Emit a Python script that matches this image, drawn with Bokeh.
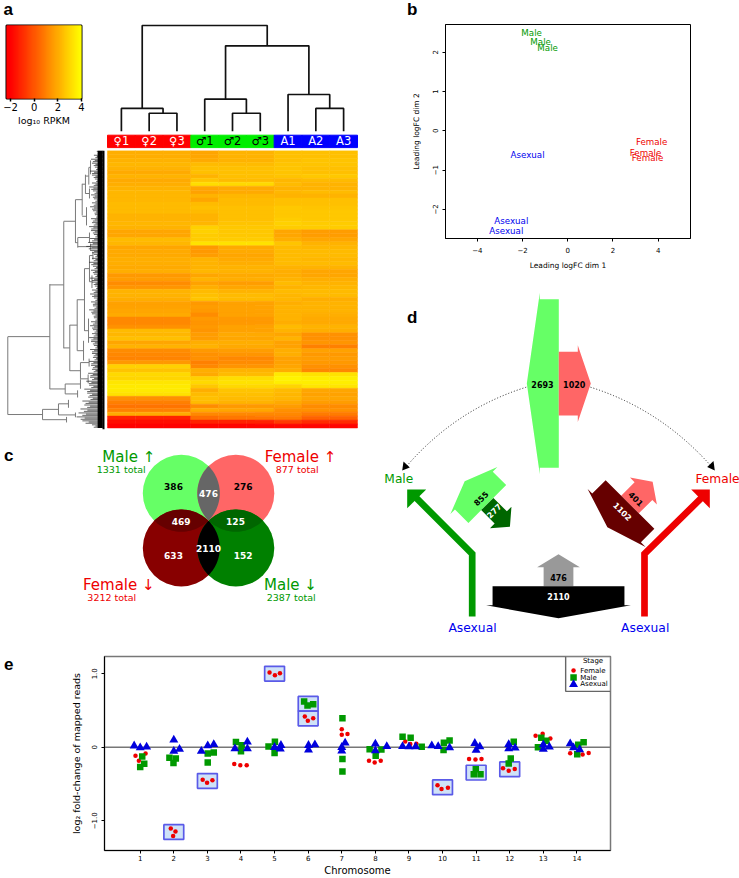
import numpy as np
from bokeh.plotting import figure
from bokeh.layouts import column, row
from bokeh.models import Range1d, Label, FixedTicker, LinearColorMapper
from bokeh.core.properties import value
from bokeh.embed import file_html
from bokeh.resources import INLINE

FONT = "DejaVu Sans"
GREEN, RED, BLUE = "#009900", "#ee0000", "#0000ee"
HEAT = ["#%02x%02x00" % (255, g) for g in range(256)]

# ---- panel a data
sample_labels = ["♀1", "♀2", "♀3", "♂1", "♂2", "♂3", "A1", "A2", "A3"]
sample_fill = ["#ff0000"] * 3 + ["#00ee00"] * 3 + ["#0000ff"] * 3
sample_text = ["white"] * 3 + ["black"] * 3 + ["white"] * 3
# left, right (leaf index or earlier merge as "n<i>"), height
sample_merges = [(1, 2, 0.17), (0, "n0", 0.215), (4, 5, 0.17), (3, "n2", 0.303),
                 (7, 8, 0.215), (6, "n4", 0.347), ("n3", "n5", 0.808), ("n1", "n6", 1.0)]
rpkm_ticks = [-2, 0, 2, 4]
heat_female = [2.1,2.1,2.2,2.3,2.2,2.0,2.2,2.0,2.1,2.2,2.3,2.3,2.3,2.4,2.4,2.4,2.2,2.2,2.3,2.2,1.9,1.9,2.4,2.3,
               1.9,2.0,2.0,2.1,2.1,2.0,2.1,1.6,1.7,1.3,1.5,2.2,2.2,2.1,1.8,1.8,1.9,2.0,1.2,1.2,1.4,2.4,2.3,
               2.5,1.9,2.2,1.3,1.2,1.1,1.6,2.9,2.6,3.1,3.0,3.4,3.5,3.5,3.3,1.4,1.0,0.7,1.0,2.0,-1.2,-1.7,-2.0]
heat_male1 = [1.9,1.9,2.0,2.4,2.5,2.5,2.2,2.6,3.2,1.9,1.8,2.2,1.9,2.4,2.5,2.4,2.2,2.2,2.3,2.9,2.9,2.8,2.8,3.3,
              1.6,1.6,1.7,2.2,2.2,2.2,2.3,1.9,2.2,1.8,2.1,2.4,2.5,2.6,1.6,1.7,1.6,1.3,1.6,1.5,1.6,1.5,1.7,
              1.7,2.1,2.2,1.6,1.4,1.4,1.0,1.2,2.1,2.0,2.9,3.1,2.7,2.1,2.4,2.5,2.4,1.3,2.0,1.2,0.6,-1.2,-1.9]
heat_male23 = [2.2,2.2,2.2,2.4,2.5,2.5,2.5,2.4,3.1,2.0,2.0,2.3,2.4,2.4,2.5,2.5,2.5,2.5,2.6,2.7,2.7,2.7,2.8,3.3,
               2.0,2.0,1.9,2.0,2.1,2.2,2.2,2.0,2.1,1.7,1.9,2.2,2.4,2.4,1.8,1.8,1.8,1.8,1.6,1.6,1.8,1.8,2.0,
               1.9,2.1,2.0,1.7,1.5,1.2,1.3,1.5,2.2,2.4,3.2,3.3,3.1,2.6,2.5,2.4,2.2,1.6,1.9,1.2,0.8,-1.2,-1.9]
heat_asex1 = [2.5,2.5,2.5,2.6,2.6,2.6,2.6,2.3,2.4,2.2,2.3,2.2,2.5,2.5,2.7,2.7,2.7,2.8,2.9,2.8,1.9,1.9,2.1,2.6,
              2.4,2.4,2.4,2.4,2.4,2.2,2.1,2.1,2.2,2.4,2.2,2.4,2.3,2.3,2.1,2.2,2.2,2.2,2.2,2.1,2.4,2.2,1.9,
              2.2,1.8,1.8,2.1,2.1,1.8,1.8,1.9,2.1,3.5,3.7,3.6,3.0,2.4,2.3,2.3,2.0,1.7,1.4,1.2,0.9,-0.6,-1.8]
heat_asex23 = [2.5,2.5,2.6,2.6,2.5,2.5,2.7,2.4,2.2,2.2,2.4,2.2,2.5,2.5,2.6,2.7,2.7,2.7,2.8,2.8,1.7,1.7,1.9,2.2,
               2.3,2.4,2.4,2.3,2.4,2.2,1.9,1.9,2.1,2.2,2.3,2.4,2.4,2.1,2.2,2.2,2.2,2.1,2.0,2.0,2.2,2.1,1.4,
               1.4,1.5,1.0,1.8,1.6,1.7,1.6,1.4,1.2,3.3,3.6,3.6,3.4,1.9,1.8,1.9,1.7,1.3,1.4,0.9,0.3,-1.0,-1.9]
# row dendrogram: height, top row, bottom row, parent height
row_nodes = [(.997,47.0,66.6,None),(.559,33.7,60.2,.997),(.635,65.3,67.9,.997),(.414,17.9,49.9,.559),(.399,58.9,61.4,.559),
             (.292,12.4,23.3,.414),(.351,44.0,55.6,.414),(.274,37.6,50.5,.351),(.198,29.8,45.5,.274),(.222,8.4,16.4,.292),
             (.188,6.1,10.9,.222),(.153,4.3,8.6,.188),(.135,2.5,6.0,.153),(.146,9.6,12.1,.188),(.177,14.3,18.9,.222),
             (.268,22.0,24.5,.292),(.146,20.7,23.2,.268),(.135,23.5,25.0,.268),(.146,26.5,33.1,.198),(.156,42.4,48.5,.198),
             (.11,25.5,27.5,.146),(.12,31.5,34.7,.146),(.208,48.0,53.0,.274),(.24,53.5,57.6,.351),(.15,52.5,54.5,.24),
             (.16,56.5,58.7,.24),(.24,57.7,60.1,.399),(.27,60.5,62.3,.399),(.469,63.9,66.7,.635),(.385,67.2,68.6,.635),
             (.365,62.9,64.9,.469),(.292,66.1,67.3,.469)]
leaf_depth = [.07,.10,.13,.12,.09,.14,.12,.09,.12,.15,.11,.13,.10,.12,.14,.11,.09,.13,.12,.15,.13,.10,.14,.16,.18,.14,.10,
              .12,.15,.11,.13,.10,.14,.12,.09,.12,.14,.10,.13,.11,.15,.12,.10,.13,.14,.11,.12,.15,.13,.10,.14,.12,.11,.15,
              .13,.12,.16,.14,.18,.15,.20,.17,.16,.22,.20,.24,.26,.28,.22,.12]

# ---- panel b data
mds_labels = ["Male", "Male", "Male", "Female", "Female", "Female", "Asexual", "Asexual", "Asexual"]
mds_dim1 = [-1.6, -1.2, -0.89, 3.71, 3.44, 3.53, -1.78, -2.5, -2.72]
mds_dim2 = [2.48, 2.25, 2.10, -0.29, -0.56, -0.70, -0.62, -2.30, -2.55]
mds_colors = [GREEN] * 3 + [RED] * 3 + [BLUE] * 3

# ---- panel c data
venn_counts = ["386", "276", "476", "469", "125", "633", "2110", "152"]
venn_text = ["black", "black", "white", "white", "white", "white", "white", "white"]

# ---- panel d data
flow_counts = [2693, 1020, 855, 277, 401, 1102, 476, 2110]
flow_colors = ["#66ff66", "#ff6666", "#66ff66", "#006600", "#ff6666", "#660000", "#999999", "#000000"]
flow_text = ["black", "black", "black", "white", "black", "white", "black", "white"]

# ---- panel e data
chromosomes = list(range(1, 15))
female_x = [.86,.96,1.16, 1.91,2.05,1.98, 2.86,2.99,3.15, 3.8,3.98,4.17, 4.85,5.01,5.16, 5.9,5.99,6.15, 7.0,7.17,7.0,
            7.81,7.98,8.16, 8.89,9.04,9.22, 9.85,9.97,10.16, 10.79,10.98,11.16, 11.8,11.97,12.15, 12.77,12.98,13.21, 13.8,14.17,14.35]
female_y = [-.116,-.183,-.085, -1.105,-1.145,-1.208, -.443,-.483,-.447, -.228,-.246,-.246, 1.016,.98,1.007, .42,.362,.394,
            .246,.18,.17, -.183,-.206,-.183, .08,.045,.049, -.515,-.568,-.55, -.161,-.166,-.161, -.286,-.318,-.295,
            .157,.183,.121, -.08,-.098,-.076]
male_x = [1.06,1.12,1.0, 1.87,2.06,1.99, 3.01,3.19,3.01, 3.85,4.02,4.0, 4.82,5.01,5.0, 5.88,5.98,6.15, 7.02,7.02,7.02,
          7.83,8.18,8.01, 8.81,9.05,9.38, 10.04,10.21,10.03, 10.93,11.13,10.99, 12.12,12.03,11.97, 12.94,13.09,12.84, 14.04,14.2,14.01]
male_y = [-.125,-.224,-.268, -.143,-.152,-.215, -.085,-.072,-.206, .072,.027,-.054, .01,.076,-.076, .622,.568,.586,
          .394,-.16,-.33, -.027,-.031,-.116, .143,.13,.009, .063,.094,-.036, -.367,-.367,-.3, .076,-.152,-.219,
          .13,.09,0.0, .036,.067,-.094]
asexual_x = [.82,1.0,1.19, 2.0,2.0,2.17, 2.82,3.01,3.19, 3.82,4.19,4.19, 5.0,5.17,5.19, 6.01,6.01,6.2, 7.1,7.0,7.0,
             8.0,8.0,8.34, 8.81,9.0,9.2, 9.68,9.87,10.21, 10.96,11.11,11.0, 11.97,11.97,12.16, 13.0,13.0,13.18, 13.8,13.9,14.08]
asexual_y = [.02,-.005,.005, .10,-.054,-.027, -.054,.022,.04, -.018,.072,-.018, 0.0,-.022,.027, .027,-.036,.036,
             .06,0.0,-.05, .045,-.045,.013, .013,.009,.009, .022,.013,-.004, .054,.009,-.04, .04,-.018,-.009,
             .036,-.027,.004, .049,-.004,-.031]
highlight_chrom = [2, 3, 5, 6, 6, 10, 11, 12]
highlight_stage = ["f", "f", "f", "m", "f", "f", "m", "f"]
legend_labels = ["Female", "Male", "Asexual"]


def blank(p):
    p.axis.visible = False
    p.grid.visible = False
    p.outline_line_color = None
    p.background_fill_color = None
    p.border_fill_color = None
    return p


def fig(w, h, xr, yr, **kw):
    opts = dict(min_border=0, min_border_left=0, min_border_right=0, min_border_top=0, min_border_bottom=0)
    opts.update(kw)
    return figure(width=w, height=h, x_range=xr, y_range=yr, output_backend="svg",
                  toolbar_location=None, frame_align=False, **opts)


def txt(p, x, y, s, size, color="black", style="normal", angle=0, align="center", baseline="middle", font=FONT):
    p.text(x=x, y=y, text=s, text_font=value(font), text_font_size=size, text_color=color,
           text_font_style=style, angle=angle, text_align=align, text_baseline=baseline)


def letter(p, s, x, y):
    p.add_layout(Label(x=x, y=y, x_units="screen", y_units="screen", text=s, text_font="Liberation Sans",
                       text_font_size="17px", text_font_style="bold", text_color="black",
                       text_baseline="alphabetic"))


def tag(s, w, h, x, base):
    t = fig(w, h, Range1d(0, w), Range1d(h, 0))
    blank(t)
    txt(t, [x], [base], [s], "17px", style="bold", align="left", baseline="alphabetic", font="Liberation Sans")
    return t


def style_axis(ax, size="7px", label_size="7.5px", standoff=4, label_gap=3):
    ax.major_label_text_font = FONT
    ax.major_label_text_font_size = size
    ax.major_label_text_color = "black"
    ax.axis_label_text_font = FONT
    ax.axis_label_text_font_size = label_size
    ax.axis_label_text_font_style = "normal"
    ax.axis_label_text_color = "black"
    ax.axis_label_standoff = standoff
    ax.minor_tick_line_color = None
    ax.major_tick_in = 0
    ax.major_tick_out = 3
    ax.major_label_standoff = label_gap


# ---------------------------------------------------- panel a
PX_COL = 250 / 9
PX_ROW = 277.5 / 70
heat_x = Range1d(-2 / PX_COL, 263 / PX_COL)

# colour key
PX_UNIT = 71 / 6
tag_a = tag("a", 105, 22, 3, 8.5)
cb = fig(105, 128, Range1d(-2 - 4 / PX_UNIT, 4), Range1d(0, 1),
         min_border_left=6, min_border_top=3, min_border_bottom=52, min_border_right=24)
cb.grid.visible = False
cb.yaxis.visible = False
edges = np.linspace(-2.34, 4, 76)
key_mapper = LinearColorMapper(palette=HEAT, low=-2, high=4)
cb_src = dict(v=list((edges[:-1] + edges[1:]) / 2), l=list(edges[:-1]), r=list(edges[1:]))
cb.quad(left="l", right="r", bottom=0, top=1, source=cb_src,
        fill_color={"field": "v", "transform": key_mapper}, line_color={"field": "v", "transform": key_mapper})
cb.outline_line_color = "black"
cb.outline_line_width = 2
ax = cb.xaxis[0]
style_axis(ax, "10px", "9.5px", 1)
ax.ticker = FixedTicker(ticks=rpkm_ticks)
ax.major_label_overrides = {-2: "−2", 0: "0", 2: "2", 4: "4"}
ax.axis_label = "log₁₀ RPKM"
ax.major_tick_line_width = 1.5
ax.axis_line_color = None
ax.major_label_standoff = 1

# sample dendrogram and strip
PX_H = 105.7
dtop = fig(265, 150, heat_x, Range1d(-19.3 / PX_H, 130.7 / PX_H))
blank(dtop)
pos, hgt, xs, ys = {}, {}, [], []
for i, (ma, mb, h) in enumerate(sample_merges):
    xa = pos[ma] if isinstance(ma, str) else ma + 0.5
    xb = pos[mb] if isinstance(mb, str) else mb + 0.5
    ya = hgt.get(ma, 0.0)
    yb = hgt.get(mb, 0.0)
    xs.append([xa, xa, xb, xb])
    ys.append([ya, h, h, yb])
    pos[f"n{i}"] = (xa + xb) / 2
    hgt[f"n{i}"] = h
dtop.multi_line(xs, ys, line_color="#111111", line_width=1.7)
strip_x = [i + 0.5 for i in range(9)]
dtop.rect(x=strip_x, y=-10.2 / PX_H, width=1.0, height=12.4 / PX_H, fill_color=sample_fill, line_color=sample_fill)
txt(dtop, strip_x, [-10.2 / PX_H] * 9, sample_labels, "11.5px", color=sample_text)

# row dendrogram
dleft = fig(105, 290, Range1d(103 / 96, -2 / 96), Range1d(290 / PX_ROW, 0))
blank(dleft)
nx, ny = [], []
for h, top, bot, par in row_nodes:
    mid = (top + bot) / 2
    nx.append([h, h])
    ny.append([top, bot])
    if par is not None:
        nx.append([par, h])
        ny.append([mid, mid])
dleft.multi_line(nx, ny, line_color="#7a7a7a", line_width=1)
lx0, ly0 = [], []
for i, dep in enumerate(leaf_depth):
    lx0 += [dep, dep * 0.7, dep * 0.85]
    ly0 += [i + 0.2, i + 0.5, i + 0.8]
dleft.segment(x0=lx0, y0=ly0, x1=[0] * len(lx0), y1=ly0, line_color="#222222", line_width=0.7)
dleft.segment(x0=[0.0], y0=[0], x1=[0.0], y1=[70.3], line_color="black", line_width=2)
dleft.segment(x0=[0.035], y0=[0], x1=[0.035], y1=[70], line_color="black", line_width=5)

# heat map
heat = fig(265, 290, heat_x, Range1d(290 / PX_ROW, 0))
blank(heat)
cols = [heat_female] * 3 + [heat_male1] + [heat_male23] * 2 + [heat_asex1] + [heat_asex23] * 2
hx, hy, hv = [], [], []
for ci, vals in enumerate(cols):
    for r, v in enumerate(vals):
        hx.append(ci + 0.5)
        hy.append(r + 0.5)
        hv.append(v)
mapper = LinearColorMapper(palette=HEAT, low=-2, high=4)
spec = {"field": "v", "transform": mapper}
heat.rect(x="x", y="y", width=1, height=1, source=dict(x=hx, y=hy, v=hv), fill_color=spec, line_color=spec, line_width=0.5)

# ---------------------------------------------------- panel c (diagram, drawn in the panel's own units)
C_R = 38.5
c = fig(370, 210, Range1d(0, 370), Range1d(650, 440))
blank(c)
cx = [180.8, 235.3, 180.8, 235.3]
cy = [492.8, 492.8, 547.5, 547.5]
c.circle(x=cx, y=cy, radius=C_R, fill_color=["#66ff66", "#ff6666", "#880000", "#008000"], line_color=None)


def lens(i, j):
    x1, y1, x2, y2 = cx[i], cy[i], cx[j], cy[j]
    a1 = np.arctan2(y2 - y1, x2 - x1)
    half = np.arccos(np.hypot(x2 - x1, y2 - y1) / (2 * C_R))
    t1 = np.linspace(a1 - half, a1 + half, 30)
    t2 = np.linspace(a1 + np.pi - half, a1 + np.pi + half, 30)
    return (list(x1 + C_R * np.cos(t1)) + list(x2 + C_R * np.cos(t2)),
            list(y1 + C_R * np.sin(t1)) + list(y2 + C_R * np.sin(t2)))


for (i, j), col in zip([(0, 1), (0, 2), (1, 3), (2, 3)], ["#666666", "#660000", "#006600", "#000000"]):
    lx, ly = lens(i, j)
    c.patch(lx, ly, fill_color=col, line_color=None)
vx = [173, 242.7, 208, 180.7, 235, 173, 208, 242.7]
vy = [485.7, 485.7, 493.3, 520.7, 520.7, 555.3, 547.7, 555.3]
txt(c, vx, vy, venn_counts, "9px", color=venn_text, style="bold")
txt(c, [128.3, 300, 118.3, 290], [456.7, 456.7, 584.7, 584.7], ["Male ↑", "Female ↑", "Female ↓", "Male ↓"],
    "15px", color=[GREEN, RED, RED, GREEN])
txt(c, [120.7, 296.7, 111.3, 290.7], [469, 469, 596.7, 596.7], ["1331 total", "877 total", "3212 total", "2387 total"],
    "9.5px", color=[GREEN, RED, RED, GREEN])
letter(c, "c", 3.5, 195.5)

# ---------------------------------------------------- panel b
tag_b = tag("b", 369, 20, 36.5, 8.5)
b = fig(369, 270, Range1d(-5.41, 5.43), Range1d(-2.74, 2.705),
        min_border_left=75, min_border_right=49, min_border_top=4, min_border_bottom=52)
b.grid.visible = False
b.outline_line_color = "black"
b.outline_line_width = 1
txt(b, mds_dim1, mds_dim2, mds_labels, "8.7px", color=mds_colors)
style_axis(b.xaxis[0], standoff=5, label_gap=5)
style_axis(b.yaxis[0], standoff=9, label_gap=4)
b.xaxis[0].axis_label = "Leading logFC dim 1"
b.yaxis[0].axis_label = "Leading logFC dim 2"
b.xaxis[0].ticker = FixedTicker(ticks=[-4, -2, 0, 2, 4])
b.yaxis[0].ticker = FixedTicker(ticks=[-2, -1, 0, 1, 2])
b.xaxis[0].major_label_overrides = {-4: "−4", -2: "−2", 0: "0", 2: "2", 4: "4"}
b.yaxis[0].major_label_overrides = {-2: "−2", -1: "−1", 0: "0", 1: "1", 2: "2"}
b.yaxis[0].major_label_orientation = "vertical"

# ---------------------------------------------------- panel d (diagram whose arrow widths follow the counts)
PX_GENE = 0.0625
d = fig(369, 360, Range1d(370, 739), Range1d(650, 290))
blank(d)


def flow_arrow(count, bx, by, ang):
    ux, uy = np.cos(np.radians(ang)), np.sin(np.radians(ang))
    nx_, ny_ = -uy, ux
    w = count * PX_GENE / 2
    body, tip, wing = 19, 32, 6.5
    pts = [(-w, 0), (-w, body), (-w - wing, body), (0, tip), (w + wing, body), (w, body), (w, 0)]
    return [bx + s * nx_ + t * ux for s, t in pts], [by + s * ny_ + t * uy for s, t in pts]


flow_place = [(558.3, 383, 180), (558.3, 383, 0), (486.8, 503.5, 225), (486.8, 503.5, 45),
              (629.5, 504, 315), (629.5, 504, 135), (558, 585.7, 270), (558, 585.7, 90)]
fx, fy = [], []
for cnt, (bx, by, ang) in zip(flow_counts, flow_place):
    ax_, ay_ = flow_arrow(cnt, bx, by, ang)
    fx.append(ax_)
    fy.append(ay_)
d.patches(fx, fy, fill_color=flow_colors, line_color=None)
lab_x = [542, 573.7, 480.3, 493.3, 635.7, 622.3, 558, 558]
lab_y = [383.7, 383.7, 497.7, 510, 498.3, 510.7, 577, 595.7]
lab_a = [0, 0, np.pi / 4, np.pi / 4, -np.pi / 4, -np.pi / 4, 0, 0]
txt(d, lab_x, lab_y, [str(v) for v in flow_counts], "8px", color=flow_text, style="bold", angle=lab_a)
# stage lines
d.line([471.7, 471.7, 415], [616, 553.3, 496.7], line_color=GREEN, line_width=6.7, line_join="miter")
d.line([644, 644, 701.7], [616, 553.3, 496.7], line_color=RED, line_width=6.7, line_join="miter")
d.patch([406.7, 425.7, 406.7], [489, 489, 507.7], fill_color=GREEN, line_color=None)
d.patch([709.3, 690.7, 709.3], [489, 489, 507.7], fill_color=RED, line_color=None)
d.quadratic(x0=[525.7, 590], y0=[386.7, 386.7], x1=[403, 713], y1=[469.3, 468.3],
            cx=[453.3, 661.7], cy=[409.3, 409.3], line_color="#222222", line_width=1, line_dash="1 2")
d.patch([401.7, 403, 409.3], [470, 461, 467], fill_color="black", line_color=None)
d.patch([714.3, 713, 706.7], [470, 460.5, 466.5], fill_color="black", line_color=None)
txt(d, [398.3, 717], [478.3, 478.3], ["Male", "Female"], "12.2px", color=[GREEN, RED])
txt(d, [472, 644.7], [627.7, 627.7], ["Asexual", "Asexual"], "12.3px", color=BLUE)
letter(d, "d", 36.5, 333)

# ---------------------------------------------------- panel e
e_tag = tag("e", 20, 228, 3.5, 13)

e = fig(719, 228, Range1d(-0.063, 15.0), Range1d(-1.404, 1.235),
        min_border_left=84, min_border_right=129, min_border_top=6, min_border_bottom=26)
e.grid.visible = False
e.outline_line_color = "#777777"
e.outline_line_width = 1.5
stage_y = {"f": (female_x, female_y), "m": (male_x, male_y)}
box_x, box_y = [], []
for ch, st in zip(highlight_chrom, highlight_stage):
    vx_, vy_ = stage_y[st]
    vals = [yy for xx, yy in zip(vx_, vy_) if abs(xx - ch) < 0.5]
    box_x.append(ch)
    box_y.append(sum(vals) / len(vals))
e.rect(x=box_x, y=box_y, width=0.59, height=0.2, fill_color="#cfe2f7", line_color="#5a5ae8", line_width=1.7)
e.segment(x0=[-0.063], y0=[0], x1=[15.0], y1=[0], line_color="#777777", line_width=1.5)
MARKS = [dict(marker="circle", size=4.5, fill_color=RED, line_color=None),
         dict(marker="square", size=6.5, fill_color=GREEN, line_color=None),
         dict(marker="triangle", size=9, fill_color="#0000dd", line_color=None)]
e.scatter(female_x, female_y, **MARKS[0])
e.scatter(male_x, male_y, **MARKS[1])
e.scatter(asexual_x, asexual_y, **MARKS[2])
# key, drawn in the axes' own units
e.quad(left=[13.665], right=[15.0], bottom=[0.761], top=[1.235], fill_color="white", line_color="#666666", line_width=1.4)
txt(e, [14.48], [1.173], ["Stage"], "7px")
key_y = [1.043, 0.949, 0.855]
for ky, mk in zip(key_y, MARKS):
    e.scatter([13.9], [ky], **mk)
txt(e, [14.1] * 3, key_y, legend_labels, "7px", align="left")
style_axis(e.xaxis[0], "7px", "10px", 1, label_gap=1)
style_axis(e.yaxis[0], "7px", "9.5px", 7, label_gap=4)
e.xaxis[0].axis_label = "Chromosome"
e.yaxis[0].axis_label = "log₂ fold-change of mapped reads"
e.xaxis[0].ticker = FixedTicker(ticks=chromosomes)
e.yaxis[0].ticker = FixedTicker(ticks=[-1, 0, 1])
e.yaxis[0].major_label_overrides = {-1: "−1.0", 0: "0", 1: "1.0"}
e.yaxis[0].major_label_orientation = "vertical"

left = column(row(column(tag_a, cb), dtop), row(dleft, heat), c)
right = column(tag_b, b, d)
page = column(row(left, right), row(e_tag, e))
open("out.html", "w").write(file_html(page, INLINE))
